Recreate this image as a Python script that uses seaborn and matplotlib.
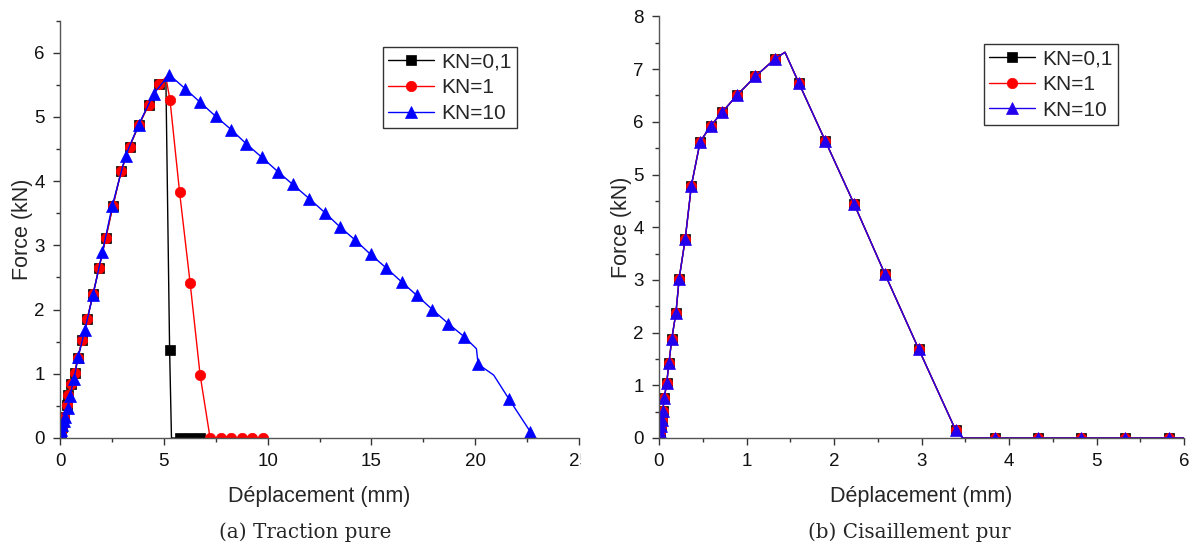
import numpy as np
import pandas as pd
import matplotlib
matplotlib.use("Agg")
import matplotlib.pyplot as plt
from matplotlib.ticker import FixedLocator, MultipleLocator
from matplotlib.transforms import Bbox
import seaborn as sns

# ---------------- data ----------------
labels = ["KN=0,1", "KN=1", "KN=10"]

# (a) Traction pure
rise_x = [0, 0.05, 0.10, 0.16, 0.21, 0.32, 0.40, 0.53, 0.72, 0.85, 1.07, 1.31, 1.59, 1.88,
          2.20, 2.55, 2.95, 3.35, 3.79, 4.27, 4.78]
rise_y = [0, 0.08, 0.17, 0.25, 0.33, 0.51, 0.67, 0.84, 1.01, 1.25, 1.52, 1.85, 2.24, 2.65,
          3.11, 3.62, 4.16, 4.54, 4.87, 5.19, 5.51]

a_k01_x = rise_x + [5.10, 5.28, 5.37, 5.77, 6.27, 6.75, 7.20]
a_k01_y = rise_y + [5.60, 1.37, 0.00, 0.00, 0.00, 0.00, 0.00]
a_k01_unmarked = [21, 23, 27]

a_k1_x = rise_x + [5.10, 5.30, 5.76, 6.27, 6.75, 7.23, 7.75, 8.26, 8.77, 9.26, 9.76]
a_k1_y = rise_y + [5.62, 5.26, 3.83, 2.41, 0.98, 0.00, 0.00, 0.00, 0.00, 0.00, 0.00]
a_k1_unmarked = [21]

a_k10_x = [0, 0.03, 0.07, 0.12, 0.17, 0.24, 0.37, 0.48, 0.67, 0.88, 1.20, 1.59, 2.04, 2.52,
           3.16, 3.79, 4.51, 5.26, 6.03, 6.75, 7.50, 8.26, 8.98, 9.73, 10.49, 11.21, 12.00,
           12.76, 13.48, 14.23, 14.96, 15.71, 16.46, 17.19, 17.94, 18.71, 19.46, 20.06,
           20.14, 20.89, 21.64, 22.65, 22.80]
a_k10_y = [0, 0.06, 0.13, 0.20, 0.26, 0.33, 0.47, 0.65, 0.92, 1.26, 1.69, 2.23, 2.89, 3.62,
           4.40, 4.88, 5.36, 5.66, 5.44, 5.23, 5.01, 4.80, 4.58, 4.37, 4.15, 3.95, 3.73,
           3.51, 3.29, 3.08, 2.86, 2.65, 2.43, 2.22, 2.00, 1.78, 1.58, 1.39,
           1.15, 0.98, 0.60, 0.10, 0.00]
a_k10_unmarked = [37, 39, 42]

# (b) Cisaillement pur (all three KN give the same curve)
b_x = [0, 0.005, 0.01, 0.02, 0.03, 0.042, 0.061, 0.088, 0.114, 0.145, 0.194, 0.23, 0.30,
       0.37, 0.47, 0.59, 0.72, 0.895, 1.10, 1.33, 1.44, 1.60, 1.90, 2.23, 2.58, 2.97, 3.39,
       3.47, 3.84, 4.33, 4.82, 5.33, 5.83, 6.30]
b_y = [0, 0.05, 0.12, 0.22, 0.34, 0.51, 0.76, 1.05, 1.42, 1.87, 2.38, 3.02, 3.78,
       4.79, 5.62, 5.92, 6.18, 6.51, 6.86, 7.20, 7.32, 6.73, 5.64, 4.44, 3.12, 1.68, 0.15,
       0.00, 0.00, 0.00, 0.00, 0.00, 0.00, 0.00]
b_unmarked = [20, 27]

xlabel = "Déplacement (mm)"
ylabel = "Force (kN)"
captions = ["(a) Traction pure", "(b) Cisaillement pur"]

# ---------------- style ----------------
sns.set_theme(style="ticks")
plt.rcParams["font.family"] = ["Liberation Sans", "DejaVu Sans"]
plt.rcParams["axes.linewidth"] = 1.0
plt.rcParams["axes.edgecolor"] = "#555555"

fig = plt.figure(figsize=(11.97, 5.49), dpi=100)
axA = fig.add_axes([60 / 1197, 111 / 549, 519 / 1197, 417.3 / 549])
axB = fig.add_axes([659 / 1197, 111 / 549, 525 / 1197, 421.6 / 549])


def marks(n, unmarked):
    return [i for i in range(n) if i not in unmarked]


def draw(ax, x, y, color, marker, ms, unmarked):
    df = pd.DataFrame({"x": x, "y": y})
    sns.lineplot(data=df, x="x", y="y", ax=ax, color=color, marker=marker,
                 markersize=ms, markeredgecolor=color, markeredgewidth=0.5,
                 linewidth=1.0, markevery=marks(len(x), unmarked),
                 estimator=None, sort=False, legend=False)
    return ax.lines[-1]


hA = [draw(axA, a_k01_x, a_k01_y, "black", "s", 6.8, a_k01_unmarked),
      draw(axA, a_k1_x, a_k1_y, "#ff0000", "o", 7.5, a_k1_unmarked),
      draw(axA, a_k10_x, a_k10_y, "#0000ff", "^", 8.5, a_k10_unmarked)]
hB = [draw(axB, b_x, b_y, "black", "s", 6.8, b_unmarked),
      draw(axB, b_x, b_y, "#ff0000", "o", 7.5, b_unmarked),
      draw(axB, b_x, b_y, "#2200ee", "^", 8.5, b_unmarked)]

axA.set_xlim(0, 25)
axA.set_ylim(0, 6.5)
axA.xaxis.set_major_locator(FixedLocator([0, 5, 10, 15, 20, 25]))
axA.xaxis.set_minor_locator(MultipleLocator(2.5))
axA.yaxis.set_major_locator(FixedLocator([0, 1, 2, 3, 4, 5, 6]))
axA.yaxis.set_minor_locator(MultipleLocator(0.5))

axB.set_xlim(0, 6)
axB.set_ylim(0, 8)
axB.xaxis.set_major_locator(FixedLocator([0, 1, 2, 3, 4, 5, 6]))
axB.xaxis.set_minor_locator(MultipleLocator(0.5))
axB.yaxis.set_major_locator(FixedLocator([0, 1, 2, 3, 4, 5, 6, 7, 8]))
axB.yaxis.set_minor_locator(MultipleLocator(0.5))

for ax, h, anchor in [(axA, hA, (0.622, 0.936)), (axB, hB, (0.6196, 0.934))]:
    sns.despine(ax=ax)
    ax.set_xlabel(xlabel, fontsize=15.5, labelpad=11)
    ax.set_ylabel(ylabel, fontsize=15.5, labelpad=1)
    ax.tick_params(axis="both", which="major", direction="out", length=5, width=1,
                   labelsize=13.5, color="#333333", labelcolor="#111111", pad=6)
    ax.tick_params(axis="both", which="minor", direction="out", length=3, width=1,
                   color="#333333")
    ax.set_facecolor("white")
    leg = ax.legend(handles=h, labels=labels, loc="upper left", bbox_to_anchor=anchor,
                    fontsize=15, frameon=True, fancybox=False, framealpha=1,
                    edgecolor="#333333", borderaxespad=0, handlelength=2.2,
                    handletextpad=0.35, labelspacing=0.32, borderpad=0.25)
    leg.get_frame().set_linewidth(1.0)

# the reference panel is cropped just after the "2" of "25"
for t in axA.get_xticklabels():
    t.set_clip_on(True)
    t.set_clip_box(Bbox([[0, 0], [581, 549]]))

fig.text(305 / 1197, 1 - 532 / 549, captions[0], ha="center", va="center",
         fontsize=14.3, family=["DejaVu Serif"])
fig.text(909 / 1197, 1 - 532 / 549, captions[1], ha="center", va="center",
         fontsize=14.3, family=["DejaVu Serif"])

fig.savefig("out.png", dpi=100, facecolor="white")
